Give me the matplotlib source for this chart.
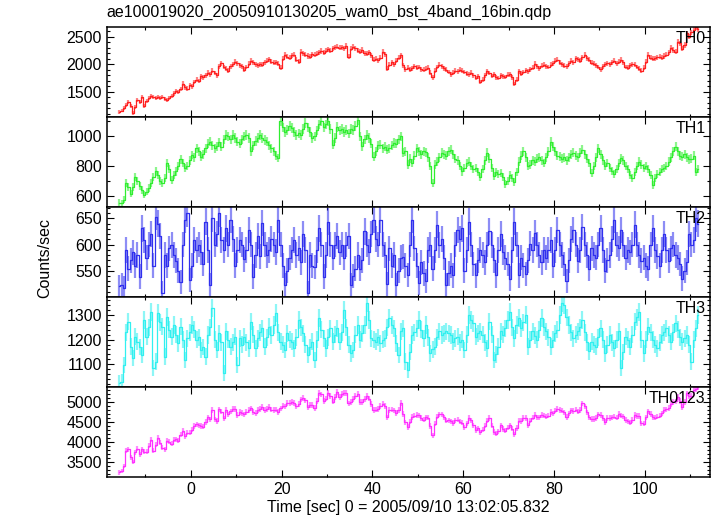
import numpy as np
import matplotlib
matplotlib.use('Agg')
import matplotlib.pyplot as plt
from matplotlib.ticker import MultipleLocator

plt.rcParams['font.family'] = ['Liberation Sans', 'DejaVu Sans']

# 0.5 s bins, bin centres from -15.75 to 111.75 sec
bin_size = 0.5
t_start = -15.75
n_bins = 256

th0 = [
    1130, 1160, 1200, 1260, 1320, 1250, 1120, 1230, 1350, 1310, 1400, 1250, 1330, 1390, 1425, 1400,
    1390, 1410, 1385, 1400, 1375, 1350, 1380, 1430, 1470, 1510, 1490, 1550, 1650, 1580, 1560, 1620,
    1600, 1680, 1720, 1700, 1780, 1760, 1800, 1850, 1820, 1880, 1840, 1800, 1960, 2020, 1950, 1920,
    1880, 1960, 2000, 2050, 2020, 1980, 1960, 1900, 1950, 2010, 2060, 2040, 2000, 1980, 2000, 1990,
    2040, 2060, 2090, 2050, 2030, 2040, 2010, 1940, 2100, 2170, 2140, 2120, 2160, 2170, 2080, 2050,
    2230, 2200, 2170, 2150, 2140, 2180, 2170, 2190, 2220, 2240, 2210, 2250, 2270, 2250, 2290, 2310,
    2320, 2300, 2310, 2290, 2330, 2140, 2280, 2320, 2290, 2250, 2230, 2260, 2200, 2190, 2220, 2160,
    2080, 2100, 2070, 2120, 2230, 2180, 1920, 1990, 2040, 2000, 2060, 2120, 2160, 1980, 1910, 1940,
    1900, 1930, 1960, 1940, 1950, 1910, 1900, 1920, 1940, 1850, 1760, 1880, 1950, 1990, 1960, 1930,
    1900, 1860, 1820, 1850, 1880, 1870, 1900, 1880, 1860, 1830, 1820, 1850, 1800, 1750, 1780, 1680,
    1720, 1800, 1870, 1840, 1790, 1820, 1760, 1750, 1800, 1780, 1770, 1810, 1820, 1760, 1640, 1720,
    1870, 1830, 1860, 1890, 1870, 1910, 1940, 2010, 1960, 1930, 1970, 1990, 1960, 1950, 1990, 2020,
    2060, 2080, 2030, 2000, 1970, 1960, 2020, 2060, 2040, 2110, 2090, 2060, 2130, 2170, 2110, 2080,
    2030, 2010, 1980, 1950, 1910, 1960, 2000, 2020, 2000, 2040, 2060, 2020, 2050, 2080, 2040, 1950,
    1940, 1980, 2000, 1990, 1950, 1920, 1880, 1940, 2050, 2170, 2120, 2100, 2110, 2130, 2140, 2120,
    2150, 2170, 2220, 2300, 2260, 2230, 2410, 2380, 2280, 2350, 2560, 2500, 2580, 2620, 2670, 2640,
]

th1 = [
    555, 550, 575, 690, 660, 615, 660, 730, 700, 665, 640, 610, 630, 655, 690, 730,
    765, 740, 700, 685, 720, 820, 780, 710, 740, 765, 800, 845, 820, 790, 800, 840,
    875, 860, 920, 900, 865, 880, 920, 950, 965, 940, 920, 935, 960, 930, 980, 1010,
    1000, 980, 1010, 990, 965, 950, 980, 1000, 1010, 990, 900, 940, 970, 990, 1010, 990,
    975, 965, 940, 920, 900, 870, 855, 1100, 1060, 1030, 1045, 1070, 1055, 1030, 1010, 1020,
    1010, 1050, 1090, 1060, 1030, 990, 1000, 1040, 1080, 1100, 1060, 1080, 1100, 1050, 945, 990,
    1065, 1040, 1050, 1030, 1045, 1020, 1050, 1045, 1070, 1110, 1000, 935, 980, 1010, 990, 950,
    865, 900, 940, 945, 920, 930, 910, 920, 940, 955, 950, 980, 1000, 890, 900, 810,
    850, 820, 870, 920, 900, 880, 900, 895, 860, 800, 690, 810, 830, 860, 890, 880,
    870, 900, 910, 880, 850, 840, 800, 765, 790, 820, 830, 800, 780, 790, 760, 730,
    780, 840, 890, 850, 790, 735, 760, 750, 755, 730, 680, 700, 740, 720, 695, 760,
    830, 870, 900, 860, 800, 810, 840, 830, 850, 860, 840, 820, 860, 900, 965, 930,
    900, 870, 865, 850, 860, 840, 860, 880, 890, 870, 860, 890, 910, 880, 850, 820,
    755, 800, 860, 920, 880, 840, 800, 820, 790, 770, 750, 780, 820, 855, 840, 800,
    780, 740, 720, 760, 800, 830, 810, 790, 800, 780, 740, 675, 720, 750, 760, 780,
    790, 800, 830, 860, 900, 930, 900, 870, 865, 880, 860, 845, 850, 870, 760, 780,
]

th2 = [
    520, 522, 518, 590, 554, 570, 585, 560, 580, 539, 631, 608, 575, 600, 620, 560,
    653, 640, 617, 507, 580, 560, 593, 599, 580, 569, 550, 529, 600, 647, 660, 532,
    560, 608, 590, 600, 585, 563, 644, 590, 522, 650, 600, 620, 660, 608, 590, 631,
    600, 647, 610, 560, 590, 608, 600, 572, 590, 628, 600, 539, 580, 617, 578, 641,
    600, 580, 590, 611, 600, 586, 647, 600, 560, 522, 550, 575, 590, 608, 580, 593,
    566, 620, 590, 507, 580, 560, 557, 590, 631, 600, 539, 580, 644, 600, 575, 600,
    617, 585, 600, 575, 600, 617, 522, 540, 554, 580, 554, 570, 625, 600, 586, 620,
    647, 611, 600, 647, 600, 580, 525, 593, 560, 580, 522, 550, 575, 577, 560, 542,
    600, 647, 593, 560, 527, 566, 545, 530, 590, 600, 554, 590, 638, 599, 610, 575,
    522, 545, 560, 541, 600, 628, 610, 631, 550, 590, 644, 600, 563, 541, 570, 590,
    580, 566, 600, 625, 599, 570, 541, 590, 620, 586, 575, 563, 535, 590, 644, 600,
    541, 575, 560, 544, 570, 602, 590, 622, 600, 580, 566, 590, 575, 590, 608, 560,
    590, 628, 600, 580, 563, 530, 570, 611, 628, 600, 569, 590, 634, 600, 580, 554,
    593, 580, 575, 600, 631, 590, 550, 570, 580, 610, 647, 600, 593, 628, 600, 575,
    590, 585, 600, 638, 600, 580, 569, 575, 560, 554, 600, 631, 590, 578, 560, 590,
    620, 590, 569, 593, 600, 580, 575, 563, 535, 550, 566, 620, 600, 608, 650, 640,
]

th3 = [
    1025, 1030, 1097, 1230, 1273, 1172, 1125, 1212, 1192, 1170, 1138, 1280, 1212, 1250, 1313, 1084,
    1111, 1307, 1270, 1253, 1131, 1293, 1240, 1212, 1260, 1220, 1185, 1253, 1200, 1118, 1206, 1230,
    1260, 1240, 1199, 1210, 1158, 1170, 1131, 1219, 1250, 1327, 1200, 1158, 1226, 1190, 1064, 1233,
    1200, 1172, 1190, 1212, 1097, 1206, 1180, 1212, 1190, 1165, 1273, 1220, 1165, 1206, 1230, 1246,
    1172, 1210, 1253, 1219, 1260, 1307, 1230, 1192, 1180, 1158, 1226, 1200, 1192, 1165, 1210, 1280,
    1250, 1226, 1180, 1138, 1170, 1192, 1118, 1200, 1287, 1240, 1206, 1165, 1210, 1246, 1192, 1220,
    1246, 1192, 1230, 1320, 1250, 1180, 1145, 1158, 1220, 1260, 1199, 1226, 1260, 1347, 1280, 1206,
    1200, 1192, 1210, 1185, 1200, 1206, 1250, 1287, 1260, 1246, 1185, 1138, 1233, 1246, 1111, 1077,
    1150, 1219, 1230, 1246, 1280, 1240, 1206, 1260, 1210, 1145, 1160, 1172, 1210, 1233, 1219, 1225,
    1233, 1225, 1219, 1192, 1205, 1212, 1190, 1199, 1158, 1220, 1300, 1280, 1266, 1212, 1225, 1233,
    1220, 1190, 1165, 1273, 1220, 1118, 1140, 1172, 1233, 1220, 1246, 1280, 1313, 1250, 1206, 1260,
    1287, 1246, 1270, 1300, 1172, 1200, 1233, 1215, 1199, 1240, 1287, 1250, 1233, 1210, 1172, 1200,
    1226, 1240, 1300, 1347, 1340, 1290, 1260, 1230, 1206, 1220, 1233, 1250, 1280, 1230, 1190, 1152,
    1192, 1180, 1172, 1210, 1246, 1200, 1145, 1180, 1219, 1190, 1165, 1200, 1233, 1084, 1150, 1212,
    1200, 1172, 1220, 1273, 1290, 1313, 1200, 1145, 1200, 1253, 1230, 1199, 1180, 1165, 1190, 1219,
    1230, 1246, 1220, 1192, 1230, 1266, 1240, 1210, 1192, 1205, 1219, 1180, 1111, 1200, 1246, 1300,
]

names = ['TH0', 'TH1', 'TH2', 'TH3', 'TH0123']
colors = ['#ff2020', '#30ee30', '#3030ee', '#30f0f0', '#ff30ff']
ylims = [(1045, 2680), (527, 1131), (500, 672), (1008, 1373), (3117, 5367)]
major_steps = [500, 200, 50, 100, 500]
minor_steps = [100, 100, 10, 20, 100]

time = t_start + bin_size * np.arange(n_bins)
rates = [np.array(th0, float), np.array(th1, float), np.array(th2, float), np.array(th3, float)]
rates.append(rates[0] + rates[1] + rates[2] + rates[3])  # TH0123 is the sum of the four bands

fig, axes = plt.subplots(5, 1, sharex=True, figsize=(7.17, 5.16), dpi=100)
fig.subplots_adjust(left=0.149, right=0.990, top=0.948, bottom=0.0756, hspace=0)

for i, ax in enumerate(axes):
    rate = rates[i]
    err = np.sqrt(rate)  # poisson error
    ax.errorbar(time, rate, yerr=err, fmt='none', ecolor=colors[i],
                elinewidth=1.6, capsize=0, alpha=0.55)
    ax.step(time, rate, where='mid', color=colors[i], lw=0.9)
    ax.set_ylim(ylims[i])
    ax.set_xlim(-18.5, 114.3)
    ax.xaxis.set_major_locator(MultipleLocator(20))
    ax.xaxis.set_minor_locator(MultipleLocator(10))
    lo, hi = ylims[i]
    ticks = np.arange(np.ceil(lo / major_steps[i]) * major_steps[i], hi, major_steps[i])
    ticks = ticks[(ticks > lo + 1) & (ticks < hi - 1)]
    ax.set_yticks(ticks)
    ax.yaxis.set_minor_locator(MultipleLocator(minor_steps[i]))
    ax.tick_params(which='both', direction='in', top=True, right=True, labelsize=11.5, width=0.8)
    ax.tick_params(which='major', length=5)
    ax.tick_params(which='minor', length=2.5)
    for sp in ax.spines.values():
        sp.set_linewidth(1.1)
    ax.text(0.993, 0.955, names[i], transform=ax.transAxes, ha='right', va='top', fontsize=11.5)

axes[-1].set_xlabel('Time [sec] 0 = 2005/09/10 13:02:05.832', fontsize=11.5, labelpad=2)
fig.text(0.063, 0.50, 'Counts/sec', rotation=90, ha='center', va='center', fontsize=11.5)
fig.text(0.149, 0.975, 'ae100019020_20050910130205_wam0_bst_4band_16bin.qdp',
         ha='left', va='center', fontsize=11.5)

plt.savefig('out.png', dpi=100)
